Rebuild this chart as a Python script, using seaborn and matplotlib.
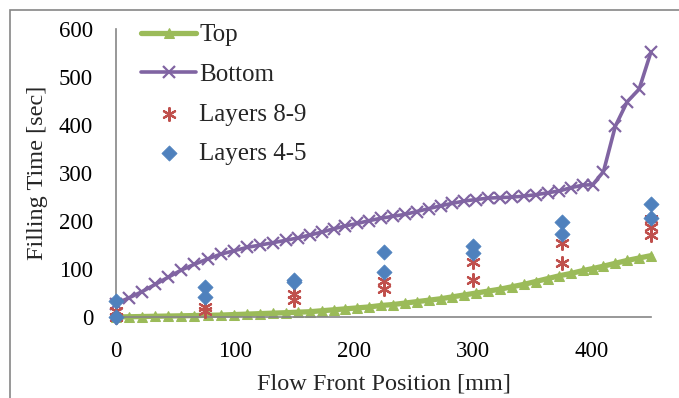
import matplotlib
matplotlib.use("Agg")
import matplotlib.pyplot as plt
import seaborn as sns
import numpy as np
from matplotlib.patches import Rectangle

# ---- data ----
pos = [0, 11, 22, 33, 44, 55, 66, 77, 88, 99, 110, 121, 132, 143, 153, 163, 173, 183,
       193, 203, 213, 223, 233, 243, 253, 263, 273, 283, 293, 303, 313, 323, 333, 343,
       353, 363, 373, 383, 393, 401, 410, 420, 430, 440, 450]
top_time = [0, 0.5, 1, 1.5, 2, 2.5, 3, 3.5, 4, 5, 6, 7, 8, 9, 10, 11, 13, 15,
            17, 19, 21, 24, 26, 29, 32, 35, 38, 42, 46, 50, 54, 58, 63, 68,
            74, 80, 86, 91, 97, 101, 106, 112, 118, 123, 128]
bottom_time = [28, 40, 53, 68, 83, 98, 110, 121, 131, 138, 145, 150, 155, 160, 165, 171, 177, 184,
               190, 195, 201, 206, 210, 214, 220, 226, 232, 237, 242, 245, 248, 249, 250, 252,
               255, 259, 263, 270, 275, 276, 303, 398, 449, 475, 553]

l89_pos = [0, 0, 75, 75, 150, 150, 225, 225, 300, 300, 375, 375, 450, 450, 450]
l89_time = [12, 0, 21, 12, 49, 35, 75, 58, 115, 77, 155, 112, 205, 188, 172]

l45_pos = [0, 0, 75, 75, 150, 150, 225, 225, 300, 300, 375, 375, 450, 450]
l45_time = [33, 0, 62, 42, 78, 72, 135, 94, 148, 133, 198, 174, 236, 207]

xticks = [0, 100, 200, 300, 400]
yticks = [0, 100, 200, 300, 400, 500, 600]

# ---- style ----
sns.set_theme(style="white")
plt.rcParams["font.family"] = ["Liberation Serif", "DejaVu Serif"]

C_TOP = "#9BBB59"
C_BOT = "#8064A2"
C_RED = "#C0504D"
C_BLUE = "#4F81BD"
C_AX = "#868686"

fig = plt.figure(figsize=(6.79, 3.98), dpi=100)
ax = fig.add_axes([116/679, 1 - 317/398, (651-116)/679, (317-29.3)/398])

sns.lineplot(x=pos, y=top_time, ax=ax, color=C_TOP, linewidth=3.8, marker="^",
             markersize=6.5, markeredgecolor=C_TOP, estimator=None, sort=False,
             label="Top")
sns.lineplot(x=pos, y=bottom_time, ax=ax, color=C_BOT, linewidth=2.6, marker="x",
             markersize=8.5, markeredgewidth=1.6, markeredgecolor=C_BOT,
             estimator=None, sort=False, label="Bottom")
sns.scatterplot(x=l89_pos, y=l89_time, ax=ax, marker=(6, 2, 0), s=85, color=C_RED,
                linewidth=1.6, label="Layers 8-9", zorder=4)
sns.scatterplot(x=l45_pos, y=l45_time, ax=ax, marker="D", s=60, color=C_BLUE,
                edgecolor=C_BLUE, linewidth=0.5, label="Layers 4-5", zorder=5)

ax.set_xlim(0, 450)
ax.set_ylim(0, 600)
ax.set_xticks(xticks)
ax.set_yticks(yticks)
ax.tick_params(axis="both", which="both", direction="out", length=4.5, width=1,
               color=C_AX, labelsize=16.5, labelcolor="black")
ax.tick_params(axis="y", pad=12)
ax.tick_params(axis="x", pad=13)
for s in ["top", "right"]:
    ax.spines[s].set_visible(False)
for s in ["left", "bottom"]:
    ax.spines[s].set_color(C_AX)
    ax.spines[s].set_linewidth(1.2)
ax.set_xlabel("Flow Front Position [mm]", fontsize=17.5, labelpad=8)
ax.set_ylabel("Filling Time [sec]", fontsize=17.5, labelpad=8)
ax.set_facecolor("none")
for a in ax.lines + ax.collections:
    a.set_clip_on(False)

leg = ax.legend(loc="upper left", bbox_to_anchor=(141/679, 1 - 24/398),
                bbox_transform=fig.transFigure, frameon=False, fontsize=18,
                handlelength=2.2, handletextpad=0.12, labelspacing=0.68,
                borderpad=0, borderaxespad=0, markerscale=1.0)

# outer chart border
fig.patches.append(Rectangle((10/679, -0.1), 1.2, 1.1 - 10/398, transform=fig.transFigure,
                             fill=False, edgecolor=C_AX, linewidth=1.2, zorder=0))

fig.savefig("out.png", dpi=100)
